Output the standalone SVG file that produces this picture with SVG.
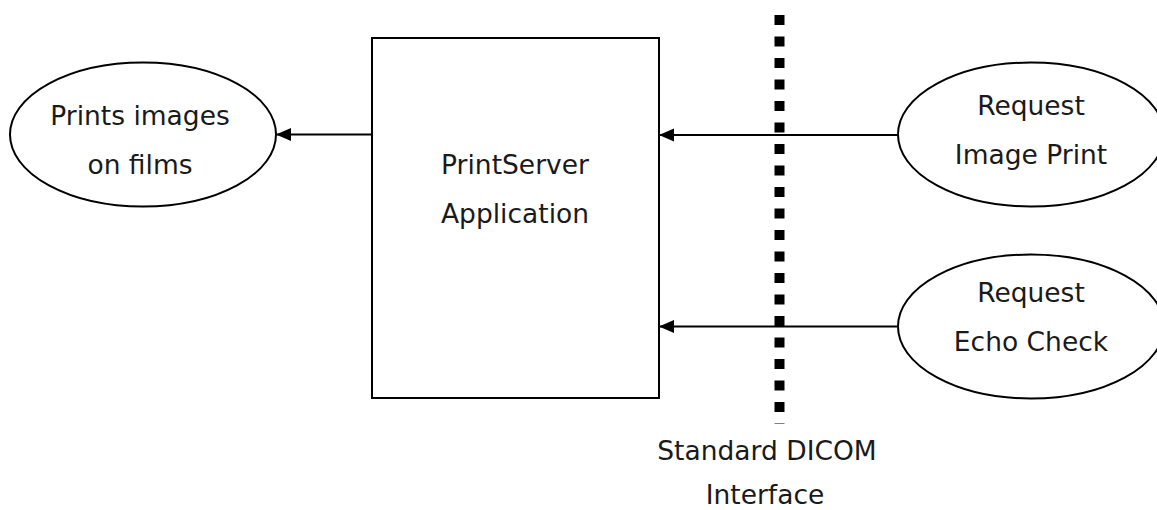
<svg xmlns="http://www.w3.org/2000/svg" width="1157" height="510" viewBox="0 0 1157 510">
<style>
.shape{fill:#fff;stroke:#000;stroke-width:2}
.lbl{font-family:"DejaVu Sans","Liberation Sans",sans-serif;font-size:26.5px;fill:#1a1a1a;text-anchor:middle}
.conn{stroke:#000;stroke-width:2;fill:none}
</style>
<defs>
<marker id="arr" viewBox="0 0 15 16" refX="15" refY="8" markerWidth="15" markerHeight="16" markerUnits="userSpaceOnUse" orient="auto">
<path d="M0,1.5 L15,8 L0,14.5 Z" fill="#000"/>
</marker>
</defs>
<rect width="1157" height="510" fill="#fff"/>
<g id="node-prints">
<ellipse class="shape" cx="143" cy="134.5" rx="133" ry="72"/>
<text class="lbl" x="140" y="125">Prints images</text>
<text class="lbl" x="140" y="174">on films</text>
</g>
<g id="node-printserver">
<rect class="shape" x="372" y="38" width="287" height="360"/>
<text class="lbl" x="515" y="174">PrintServer</text>
<text class="lbl" x="515" y="223">Application</text>
</g>
<g id="node-request-print">
<ellipse class="shape" cx="1031" cy="134.5" rx="133" ry="72"/>
<text class="lbl" x="1031" y="115">Request</text>
<text class="lbl" x="1031" y="164">Image Print</text>
</g>
<g id="node-request-echo">
<ellipse class="shape" cx="1031" cy="326.5" rx="133" ry="72"/>
<text class="lbl" x="1031" y="302">Request</text>
<text class="lbl" x="1031" y="351">Echo Check</text>
</g>
<g id="interface">
<line x1="779.5" y1="15" x2="779.5" y2="424" stroke="#000" stroke-width="10" stroke-dasharray="10 11.5"/>
<text class="lbl" x="767" y="460">Standard DICOM</text>
<text class="lbl" x="765" y="504">Interface</text>
</g>
<g id="connectors">
<line class="conn" x1="372" y1="134.5" x2="276" y2="134.5" marker-end="url(#arr)"/>
<line class="conn" x1="898" y1="135" x2="659" y2="135" marker-end="url(#arr)"/>
<line class="conn" x1="898" y1="326.5" x2="659" y2="326.5" marker-end="url(#arr)"/>
</g>
</svg>
